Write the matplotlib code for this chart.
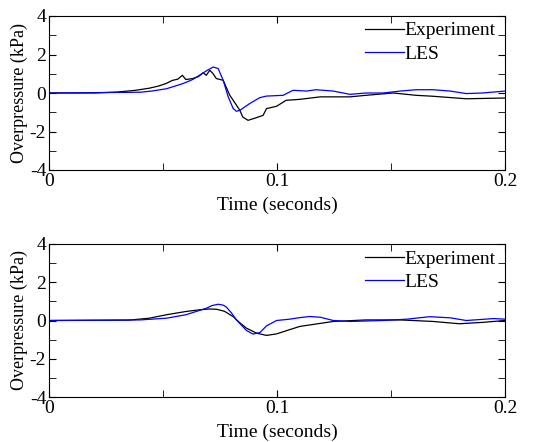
import matplotlib.pyplot as plt
from matplotlib.ticker import MultipleLocator

plt.rcParams['font.family'] = ['Liberation Serif', 'DejaVu Serif']
plt.rcParams['axes.unicode_minus'] = False

# top panel
t_exp1 = [0, 0.02, 0.03, 0.038, 0.044, 0.048, 0.0515, 0.054, 0.0565, 0.0585, 0.06, 0.063,
          0.0655, 0.0676, 0.069, 0.0705, 0.072, 0.0734, 0.0764, 0.0778, 0.0793, 0.0808,
          0.0837, 0.085, 0.0873, 0.091, 0.0939, 0.0954, 0.0998, 0.104, 0.11, 0.119,
          0.132, 0.139, 0.151, 0.161, 0.1685, 0.183, 0.2]
p_exp1 = [0, 0.0, 0.05, 0.14, 0.25, 0.36, 0.5, 0.65, 0.72, 0.92, 0.7, 0.75,
          0.85, 1.05, 0.92, 1.18, 1.0, 0.75, 0.66, 0.28, -0.12, -0.38,
          -0.9, -1.25, -1.42, -1.28, -1.16, -0.81, -0.69, -0.38, -0.33, -0.2,
          -0.2, -0.12, 0.0, -0.12, -0.17, -0.3, -0.26]
t_les1 = [0, 0.04, 0.045, 0.0515, 0.0588, 0.063, 0.066, 0.069, 0.072, 0.0742, 0.0764,
          0.0786, 0.0808, 0.0822, 0.0837, 0.088, 0.0925, 0.0954, 0.1027, 0.107, 0.113,
          0.117, 0.1247, 0.132, 0.139, 0.1466, 0.154, 0.161, 0.1685, 0.176, 0.183,
          0.19, 0.2]
p_les1 = [0, 0.04, 0.1, 0.22, 0.49, 0.7, 0.92, 1.15, 1.35, 1.27, 0.66,
          -0.2, -0.81, -0.95, -0.9, -0.55, -0.24, -0.16, -0.12, 0.14, 0.1,
          0.17, 0.1, -0.07, 0.0, 0.0, 0.1, 0.17, 0.17, 0.1, -0.03,
          0.0, 0.1]

# bottom panel
t_exp2 = [0, 0.035, 0.044, 0.0515, 0.06, 0.066, 0.07, 0.0734, 0.077, 0.0808, 0.0835,
          0.0866, 0.091, 0.0954, 0.0998, 0.105, 0.11, 0.1247, 0.139, 0.154, 0.1685,
          0.18, 0.19, 0.2]
p_exp2 = [0, 0.02, 0.12, 0.3, 0.47, 0.56, 0.6, 0.59, 0.48, 0.2, -0.1,
          -0.4, -0.66, -0.78, -0.7, -0.5, -0.31, -0.05, 0.03, 0.03, -0.05,
          -0.17, -0.1, 0.0]
t_les2 = [0, 0.04, 0.0515, 0.06, 0.069, 0.0715, 0.0742, 0.0765, 0.0778, 0.08, 0.0822,
          0.0866, 0.0895, 0.0925, 0.0954, 0.0998, 0.1056, 0.11, 0.1144, 0.119, 0.1247,
          0.132, 0.1466, 0.157, 0.167, 0.176, 0.183, 0.195, 0.2]
p_les2 = [0, 0.03, 0.12, 0.3, 0.64, 0.78, 0.85, 0.8, 0.7, 0.4, 0.03,
          -0.52, -0.71, -0.63, -0.28, 0.0, 0.07, 0.15, 0.21, 0.17, 0.0,
          -0.05, 0.0, 0.07, 0.2, 0.14, 0.0, 0.1, 0.07]

fig = plt.figure(figsize=(5.48, 4.42), dpi=100)
ax1 = fig.add_axes([49/548, 1-170/442, 456/548, 154/442])
ax2 = fig.add_axes([49/548, 1-397/442, 456/548, 153/442])

for ax, te, pe, tl, pl in [(ax1, t_exp1, p_exp1, t_les1, p_les1),
                            (ax2, t_exp2, p_exp2, t_les2, p_les2)]:
    ax.plot(te, pe, color='black', lw=0.9, label='Experiment')
    ax.plot(tl, pl, color='blue', lw=0.9, label='LES')
    ax.set_xlim(0, 0.2)
    ax.set_ylim(-4, 4)
    ax.set_xticks([0, 0.1, 0.2])
    ax.set_xticklabels(['0', '0.1', '0.2'])
    ax.xaxis.set_minor_locator(MultipleLocator(0.05))
    ax.set_yticks([-4, -2, 0, 2, 4])
    ax.yaxis.set_minor_locator(MultipleLocator(1))
    ax.tick_params(which='both', direction='in', top=True, right=True, labelsize=14, pad=2)
    ax.tick_params(which='major', length=5)
    ax.tick_params(which='minor', length=5)
    ax.set_xlabel('Time (seconds)', fontsize=14, labelpad=5)
    ax.set_ylabel('Overpressure (kPa)', fontsize=13, labelpad=1)
    ax.legend(loc='upper right', bbox_to_anchor=(1.0, 1.025), frameon=False, fontsize=14,
              handlelength=2.0, handletextpad=0.0, borderaxespad=0.1, labelspacing=0.3)

fig.savefig('out.png', dpi=100)
